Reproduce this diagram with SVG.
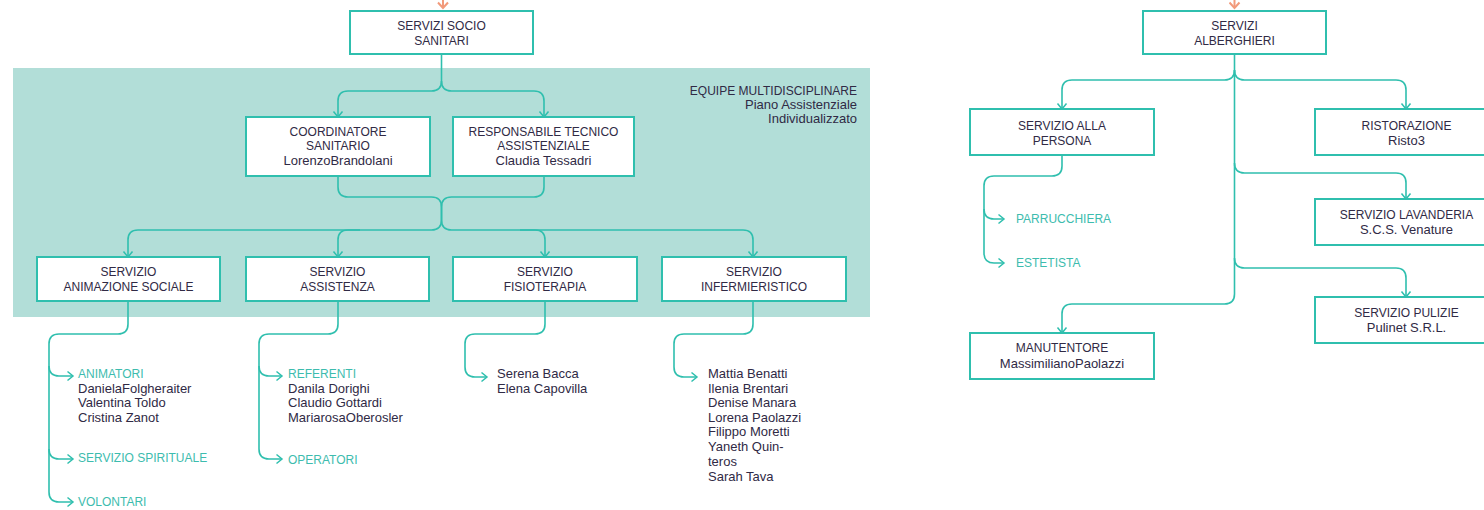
<svg xmlns="http://www.w3.org/2000/svg" width="1484" height="510" viewBox="0 0 1484 510">
<defs>
<style>
.bg{fill:#b2ded8}
.box{fill:#fff;stroke:#2fbfae;stroke-width:2}
.c{fill:none;stroke:#2fbfae;stroke-width:1.6}
.o{fill:none;stroke:#f29a7b;stroke-width:2}
text{font-family:"Liberation Sans",Arial,sans-serif;fill:#302a45}
.t{font-size:12px;text-anchor:middle}
.m{font-size:13px;text-anchor:middle}
.n{font-size:13px}
.k{font-size:12px;fill:#3dbcae}
.r{text-anchor:end}
</style>
<marker id="ah" viewBox="-8 -6 10 12" markerWidth="10" markerHeight="12" refX="0" refY="0" orient="auto" markerUnits="userSpaceOnUse">
<path d="M-5.5,-4.5 L0,0 L-5.5,4.5" fill="none" stroke="#2fbfae" stroke-width="1.5"/>
</marker>
<marker id="ao" viewBox="-8 -6 10 12" markerWidth="10" markerHeight="12" refX="0" refY="0" orient="auto" markerUnits="userSpaceOnUse">
<path d="M-5.5,-5 L0,0 L-5.5,5" fill="none" stroke="#f29a7b" stroke-width="2"/>
</marker>
</defs>

<rect class="bg" x="13" y="68" width="857" height="249"/>
<g id="equipe-label">
<text class="k r" x="857" y="95" style="fill:#302a45">EQUIPE MULTIDISCIPLINARE</text>
<text class="n r" x="857" y="109">Piano Assistenziale</text>
<text class="n r" x="857" y="123">Individualizzato</text>
</g>

<g id="connectors">
<path class="o" d="M443,-2 L443,8" marker-end="url(#ao)"/>
<path class="o" d="M1234.5,-2 L1234.5,8" marker-end="url(#ao)"/>

<path class="c" d="M441.5,54 L441.5,81 Q441.5,91 431.5,91 L348,91 Q338,91 338,101 L338,117" marker-end="url(#ah)"/>
<path class="c" d="M441.5,81 Q441.5,91 451.5,91 L534,91 Q544,91 544,101 L544,117" marker-end="url(#ah)"/>

<path class="c" d="M338,176 L338,187 Q338,197 348,197 L431.5,197 Q441.5,197 441.5,207 L441.5,220 Q441.5,230 431.5,230 L138,230 Q128,230 128,240 L128,257" marker-end="url(#ah)"/>
<path class="c" d="M544,176 L544,187 Q544,197 534,197 L451.5,197 Q441.5,197 441.5,207 L441.5,220 Q441.5,230 451.5,230 L743,230 Q753,230 753,240 L753,257" marker-end="url(#ah)"/>
<path class="c" d="M360,230 L348,230 Q338,230 338,240 L338,257" marker-end="url(#ah)"/>
<path class="c" d="M520,230 L535,230 Q545,230 545,240 L545,257" marker-end="url(#ah)"/>

<path class="c" d="M128,301 L128,324 Q128,334 118,334 L59,334 Q49,334 49,344 L49,492 Q49,502 59,502 L73,502" marker-end="url(#ah)"/>
<path class="c" d="M49,366 Q49,376 59,376 L73,376" marker-end="url(#ah)"/>
<path class="c" d="M49,449 Q49,459 59,459 L73,459" marker-end="url(#ah)"/>

<path class="c" d="M338,301 L338,324 Q338,334 328,334 L269,334 Q259,334 259,344 L259,449 Q259,459 269,459 L282,459" marker-end="url(#ah)"/>
<path class="c" d="M259,366 Q259,376 269,376 L282,376" marker-end="url(#ah)"/>

<path class="c" d="M545,301 L545,324 Q545,334 535,334 L475,334 Q465,334 465,344 L465,367 Q465,377 475,377 L487,377" marker-end="url(#ah)"/>
<path class="c" d="M753,301 L753,324 Q753,334 743,334 L684,334 Q674,334 674,344 L674,367 Q674,377 684,377 L697,377" marker-end="url(#ah)"/>

<path class="c" d="M1234.5,54 L1234.5,70 Q1234.5,80 1224.5,80 L1072,80 Q1062,80 1062,90 L1062,109" marker-end="url(#ah)"/>
<path class="c" d="M1234.5,70 Q1234.5,80 1244.5,80 L1396,80 Q1406,80 1406,90 L1406,109" marker-end="url(#ah)"/>
<path class="c" d="M1234.5,70 L1234.5,294 Q1234.5,304 1224.5,304 L1072,304 Q1062,304 1062,314 L1062,333" marker-end="url(#ah)"/>
<path class="c" d="M1234.5,163 Q1234.5,173 1244.5,173 L1396,173 Q1406,173 1406,183 L1406,199" marker-end="url(#ah)"/>
<path class="c" d="M1234.5,258 Q1234.5,268 1244.5,268 L1396,268 Q1406,268 1406,278 L1406,297" marker-end="url(#ah)"/>
<path class="c" d="M1062,155 L1062,166 Q1062,176 1052,176 L994,176 Q984,176 984,186 L984,253 Q984,263 994,263 L1004,263" marker-end="url(#ah)"/>
<path class="c" d="M984,209 Q984,219 994,219 L1004,219" marker-end="url(#ah)"/>
</g>

<g id="servizi-socio-sanitari">
<rect class="box" x="350" y="11" width="183" height="43"/>
<text class="t" x="441.5" y="29.5">SERVIZI SOCIO</text>
<text class="t" x="441.5" y="44.5">SANITARI</text>
</g>
<g id="coordinatore">
<rect class="box" x="246" y="117" width="184" height="59"/>
<text class="t" x="338" y="135.5">COORDINATORE</text>
<text class="t" x="338" y="150">SANITARIO</text>
<text class="m" x="338" y="165">LorenzoBrandolani</text>
</g>
<g id="responsabile">
<rect class="box" x="453" y="117" width="181" height="59"/>
<text class="t" x="543.5" y="135.5">RESPONSABILE TECNICO</text>
<text class="t" x="543.5" y="150">ASSISTENZIALE</text>
<text class="m" x="543.5" y="165">Claudia Tessadri</text>
</g>
<g id="animazione">
<rect class="box" x="37" y="257" width="183" height="44"/>
<text class="t" x="128.5" y="275.5">SERVIZIO</text>
<text class="t" x="128.5" y="290.5">ANIMAZIONE SOCIALE</text>
</g>
<g id="assistenza">
<rect class="box" x="246" y="257" width="183" height="44"/>
<text class="t" x="337.5" y="275.5">SERVIZIO</text>
<text class="t" x="337.5" y="290.5">ASSISTENZA</text>
</g>
<g id="fisioterapia">
<rect class="box" x="453" y="257" width="184" height="44"/>
<text class="t" x="545" y="275.5">SERVIZIO</text>
<text class="t" x="545" y="290.5">FISIOTERAPIA</text>
</g>
<g id="infermieristico">
<rect class="box" x="662" y="257" width="184" height="44"/>
<text class="t" x="754" y="275.5">SERVIZIO</text>
<text class="t" x="754" y="290.5">INFERMIERISTICO</text>
</g>

<g id="list-animazione">
<text class="k" x="78" y="377.5">ANIMATORI</text>
<text class="n" x="78" y="392.5">DanielaFolgheraiter</text>
<text class="n" x="78" y="407">Valentina Toldo</text>
<text class="n" x="78" y="421.5">Cristina Zanot</text>
<text class="k" x="78" y="461.5">SERVIZIO SPIRITUALE</text>
<text class="k" x="78" y="506">VOLONTARI</text>
</g>
<g id="list-assistenza">
<text class="k" x="288" y="377.5">REFERENTI</text>
<text class="n" x="288" y="392.5">Danila Dorighi</text>
<text class="n" x="288" y="407">Claudio Gottardi</text>
<text class="n" x="288" y="421.5">MariarosaOberosler</text>
<text class="k" x="288" y="463.5">OPERATORI</text>
</g>
<g id="list-fisioterapia">
<text class="n" x="497" y="378">Serena Bacca</text>
<text class="n" x="497" y="392.5">Elena Capovilla</text>
</g>
<g id="list-infermieristico">
<text class="n" x="708" y="378">Mattia Benatti</text>
<text class="n" x="708" y="392.5">Ilenia Brentari</text>
<text class="n" x="708" y="407">Denise Manara</text>
<text class="n" x="708" y="421.5">Lorena Paolazzi</text>
<text class="n" x="708" y="436">Filippo Moretti</text>
<text class="n" x="708" y="451">Yaneth Quin-</text>
<text class="n" x="708" y="466">teros</text>
<text class="n" x="708" y="480.5">Sarah Tava</text>
</g>

<g id="servizi-alberghieri">
<rect class="box" x="1143" y="11" width="183" height="43"/>
<text class="t" x="1234.5" y="29.5">SERVIZI</text>
<text class="t" x="1234.5" y="44.5">ALBERGHIERI</text>
</g>
<g id="servizio-persona">
<rect class="box" x="970" y="109" width="184" height="46"/>
<text class="t" x="1062" y="129.5">SERVIZIO ALLA</text>
<text class="t" x="1062" y="144.5">PERSONA</text>
</g>
<g id="list-persona">
<text class="k" x="1016" y="223">PARRUCCHIERA</text>
<text class="k" x="1016" y="267">ESTETISTA</text>
</g>
<g id="ristorazione">
<rect class="box" x="1315" y="109" width="183" height="46"/>
<text class="t" x="1406.5" y="129.5">RISTORAZIONE</text>
<text class="m" x="1406.5" y="144.5">Risto3</text>
</g>
<g id="lavanderia">
<rect class="box" x="1315" y="199" width="183" height="46"/>
<text class="t" x="1406.5" y="218.5">SERVIZIO LAVANDERIA</text>
<text class="m" x="1406.5" y="234">S.C.S. Venature</text>
</g>
<g id="pulizie">
<rect class="box" x="1315" y="297" width="183" height="46"/>
<text class="t" x="1406.5" y="316.5">SERVIZIO PULIZIE</text>
<text class="m" x="1406.5" y="332">Pulinet S.R.L.</text>
</g>
<g id="manutentore">
<rect class="box" x="970" y="333" width="184" height="46"/>
<text class="t" x="1062" y="352">MANUTENTORE</text>
<text class="m" x="1062" y="367.5">MassimilianoPaolazzi</text>
</g>
</svg>
